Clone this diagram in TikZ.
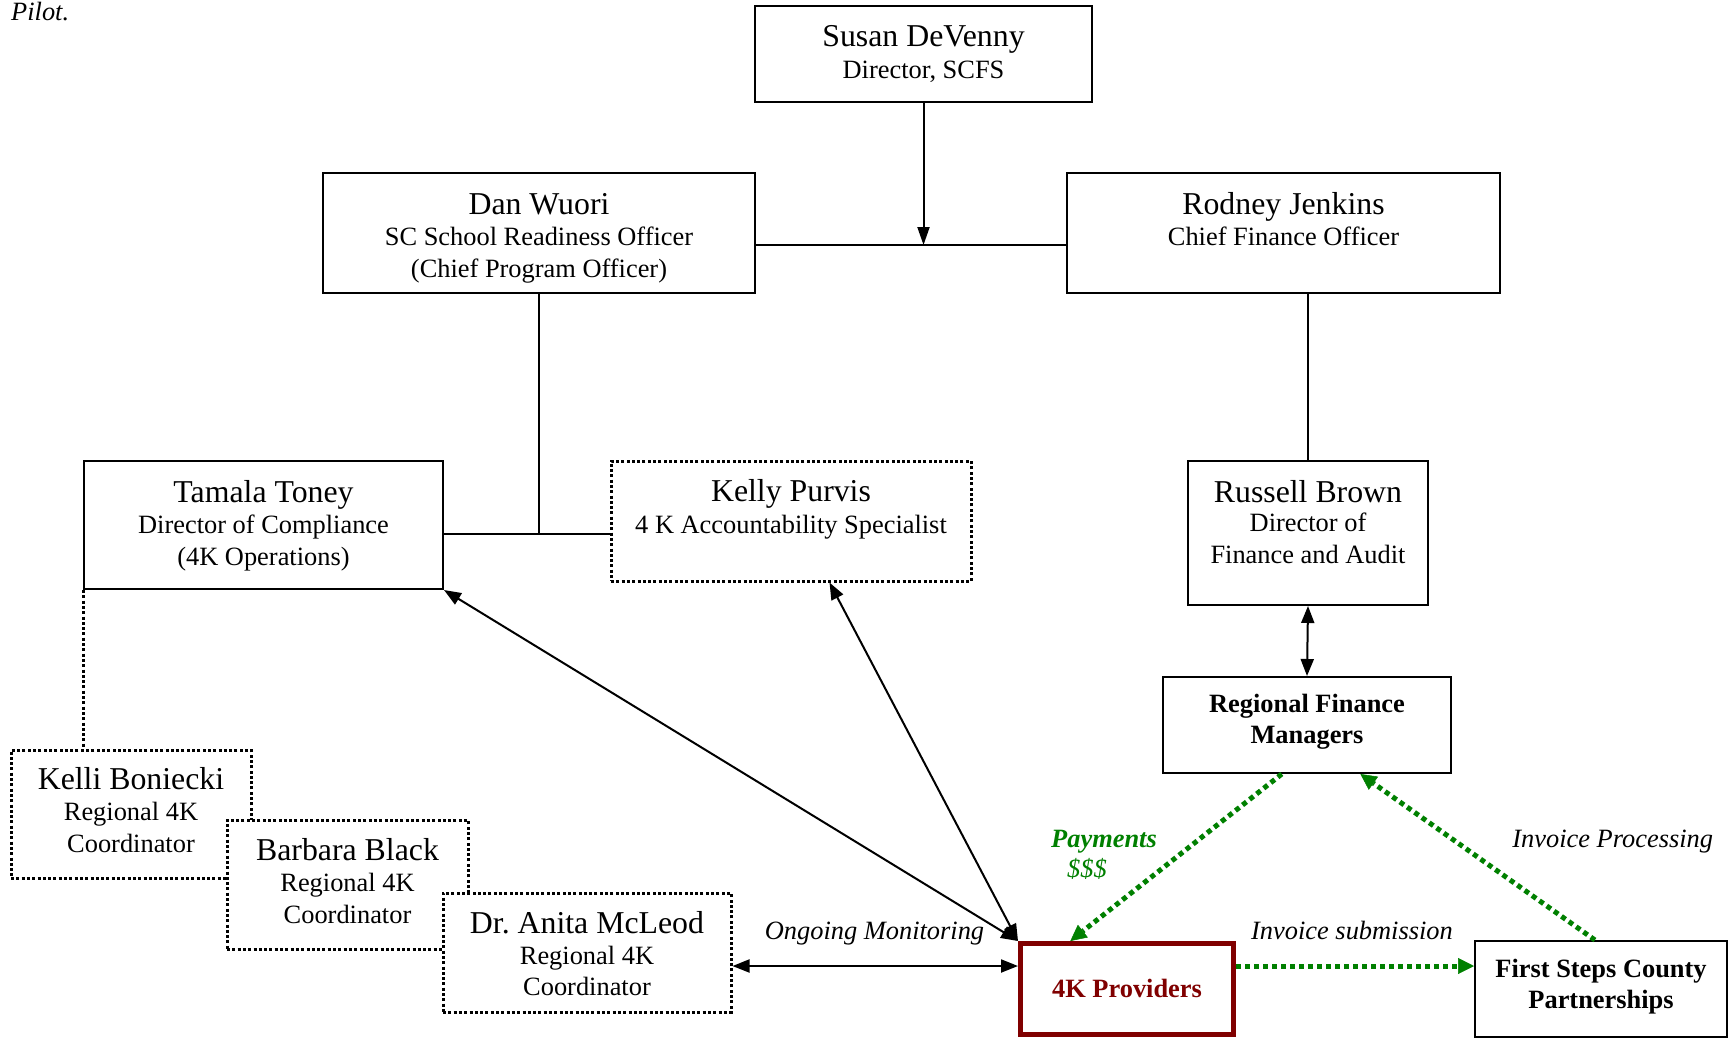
\documentclass[tikz,border=0pt]{standalone}
\usepackage{fontspec}
\setmainfont{Liberation Serif}
\usetikzlibrary{arrows.meta,calc}
\definecolor{pgreen}{RGB}{0,128,0}
\definecolor{pred}{RGB}{128,0,0}
\begin{document}
\begin{tikzpicture}[x=1pt,y=-1pt,
 box/.style={draw, line width=2pt, rectangle, inner sep=0pt, fill=white},
 dbox/.style={box, dash pattern=on 3pt off 2.3pt, line width=3pt},
 nm/.style={font=\fontsize{31.8}{36}\selectfont, anchor=base, inner sep=0pt},
 sub/.style={font=\fontsize{26.4}{31.5}\selectfont, anchor=base, align=center, inner sep=0pt},
 bsub/.style={font=\fontsize{26.4}{31}\selectfont\bfseries, anchor=base, align=center, inner sep=0pt},
 lab/.style={font=\fontsize{26.4}{31}\selectfont\itshape, anchor=base, inner sep=0pt},
 conn/.style={line width=2pt},
 biarr/.style={conn, {Triangle[length=17pt,width=13pt]}-{Triangle[length=17pt,width=13pt]}},
 garr/.style={draw=pgreen, line width=5pt, dash pattern=on 5pt off 4pt, -{Triangle[length=16pt,width=16pt,fill=pgreen,line width=0.5pt]}},
]
\useasboundingbox (0,0) rectangle (1729,1039);

% boxes
\node[box, minimum width=337, minimum height=96] (susan) at (923.5,53.5) {};
\node[box, minimum width=432, minimum height=120] (dan) at (539,233) {};
\node[box, minimum width=433, minimum height=120] (rodney) at (1283.5,233) {};
\node[box, minimum width=359, minimum height=128] (tamala) at (263.5,525) {};
\node[dbox, minimum width=360, minimum height=120] (kelly) at (791,521) {};
\node[box, minimum width=240, minimum height=144] (russell) at (1308,533) {};
\node[box, minimum width=288, minimum height=96] (rfm) at (1307,725) {};
\node[dbox, minimum width=240, minimum height=128] (kelli) at (131,814) {};
\node[dbox, minimum width=241, minimum height=129] (barbara) at (347.5,884.5) {};
\node[dbox, minimum width=288, minimum height=119] (anita) at (587,952.5) {};
\node[box, draw=pred, line width=5pt, minimum width=213, minimum height=91] (prov) at (1127,989) {};
\node[box, minimum width=252, minimum height=96] (first) at (1601,989) {};

% texts (anchor base = baseline of last line)
\node[nm] (susanN) at ($(susan.north)+(0,42)$) {Susan DeVenny};
\node[sub] (susanS) at ($(susan.north)+(0,73.5)$) {Director, SCFS};
\node[nm] (danN) at ($(dan.north)+(0,42)$) {Dan Wuori};
\node[sub] (danS) at ($(dan.north)+(0,105)$) {SC School Readiness Officer\\(Chief Program Officer)};
\node[nm] (rodneyN) at ($(rodney.north)+(0,42)$) {Rodney Jenkins};
\node[sub] (rodneyS) at ($(rodney.north)+(0,73.5)$) {Chief Finance Officer};
\node[nm] (tamalaN) at ($(tamala.north)+(0,42)$) {Tamala Toney};
\node[sub] (tamalaS) at ($(tamala.north)+(0,105)$) {Director of Compliance\\(4K Operations)};
\node[nm] (kellyN) at ($(kelly.north)+(0,42)$) {Kelly Purvis};
\node[sub] (kellyS) at ($(kelly.north)+(0,73.5)$) {4 K Accountability Specialist};
\node[nm] (russellN) at ($(russell.north)+(0,42)$) {Russell Brown};
\node[sub] (russellS) at ($(russell.north)+(0,103)$) {Director of\\Finance and Audit};
\node[bsub] (rfmT) at ($(rfm.north)+(0,67.2)$) {Regional Finance\\Managers};
\node[nm] (kelliN) at ($(kelli.north)+(0,41)$) {Kelli Boniecki};
\node[sub] (kelliS) at ($(kelli.north)+(0,103.5)$) {Regional 4K\\Coordinator};
\node[nm] (barbaraN) at ($(barbara.north)+(0,42)$) {Barbara Black};
\node[sub] (barbaraS) at ($(barbara.north)+(0,104.5)$) {Regional 4K\\Coordinator};
\node[nm] (anitaN) at ($(anita.north)+(0,41.5)$) {Dr.\ Anita McLeod};
\node[sub] (anitaS) at ($(anita.north)+(0,104)$) {Regional 4K\\Coordinator};
\node[bsub, text=pred] (provT) at (1127,997.8) {4K Providers};
\node[bsub] (firstT) at ($(first.north)+(0,68)$) {First Steps County\\Partnerships};

% labels
\node[lab, anchor=base west] (pilot) at (11,20) {Pilot.};
\node[lab, text=pgreen, font=\fontsize{26.4}{31}\selectfont\bfseries\itshape] (pay) at (1104,847) {Payments};
\node[lab, text=pgreen] (dollars) at (1087,877) {\$\$\$};
\node[lab] (invproc) at (1612.7,847) {Invoice Processing};
\node[lab] (invsub) at (1352,939.5) {Invoice submission};
\node[lab] (ongoing) at (874.5,939.5) {Ongoing Monitoring};

% connectors
\coordinate (j1) at (923.5,245);
\coordinate (j2) at (539,534);
\coordinate (j3) at (0,966);
\draw[conn, -{Triangle[length=18pt,width=12pt]}] (susan.south) -- (j1);
\draw[conn] (dan.east |- j1) -- (rodney.west |- j1);
\draw[conn] (dan.south) -- (j2);
\draw[conn] (tamala.east |- j2) -- (kelly.west |- j2);
\draw[conn] (rodney.south -| russell.north) -- (russell.north);
\draw[biarr] (russell.south) -- (rfm.north);
\draw[line width=3pt, dash pattern=on 3pt off 2.3pt] (tamala.south west) -- (tamala.south west |- kelli.north);
\draw[biarr] (tamala.south east) -- (prov.north west);
\draw[biarr] ($(kelly.south west)!0.606!(kelly.south east)$) -- (prov.north west);
\draw[biarr] (anita.east |- j3) -- (prov.west |- j3);
\draw[garr] ($(rfm.south west)!0.413!(rfm.south east)$) -- ($(prov.north west)!0.24!(prov.north east)$);
\draw[garr] ($(first.north west)!0.476!(first.north east)$) -- ($(rfm.south west)!0.684!(rfm.south east)$);
\draw[garr] (prov.east |- j3) -- (first.west |- j3);
\end{tikzpicture}
\end{document}
